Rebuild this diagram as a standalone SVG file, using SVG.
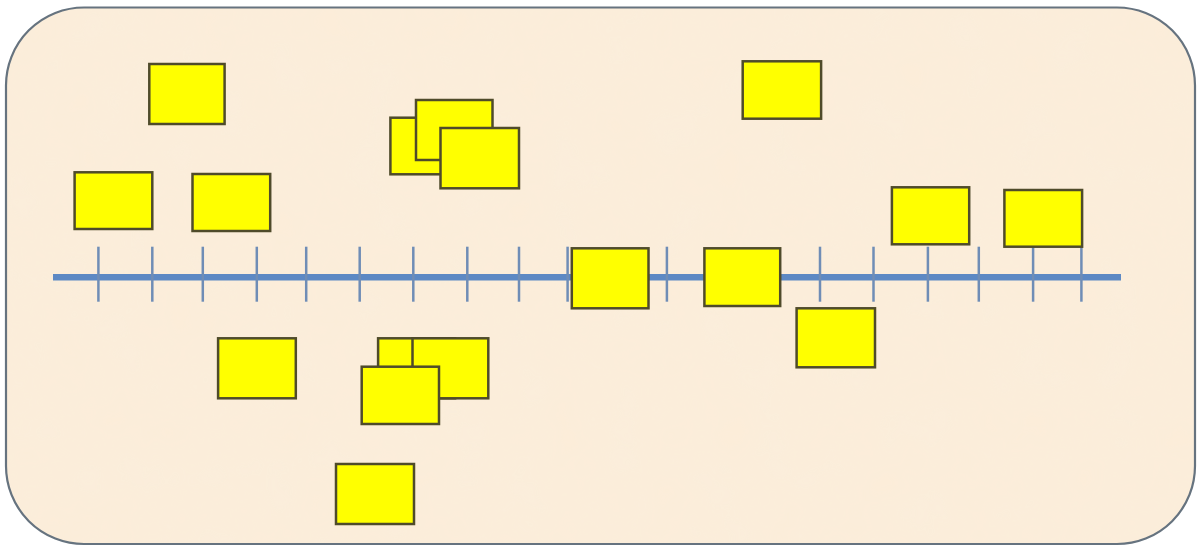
<svg xmlns="http://www.w3.org/2000/svg" width="1198" height="546" viewBox="0 0 1198 546">
<defs>
<filter id="paper" x="0" y="0" width="100%" height="100%">
<feTurbulence type="fractalNoise" baseFrequency="0.02" numOctaves="3" seed="4" result="n"/>
<feColorMatrix in="n" type="matrix" values="0 0 0 0 0.93  0 0 0 0 0.86  0 0 0 0 0.74  0 0 0 0.35 0" result="c"/>
<feComposite in="c" in2="SourceGraphic" operator="in"/>
</filter>
<style>
.card{fill:#FFFF00;stroke:#4F4B2A;stroke-width:2.5}
.tick{stroke:#6F8DB6;stroke-width:2.5}
.axis{stroke:#5D89C4;stroke-width:6.5;stroke-linecap:butt}
</style>
</defs>
<rect width="1198" height="546" fill="#FFFFFF"/>
<g id="board">
<rect x="6" y="7.5" width="1189" height="536.5" rx="78" ry="78" fill="#FCEDD9"/>
<rect x="6" y="7.5" width="1189" height="536.5" rx="78" ry="78" fill="#000" filter="url(#paper)"/>
<rect x="6" y="7.5" width="1189" height="536.5" rx="78" ry="78" fill="none" stroke="#66737F" stroke-width="2.2"/>
</g>
<g id="timeline">
<line class="axis" x1="53" y1="277.3" x2="1121" y2="277.3"/>
<g class="tick">
<line x1="98.4" y1="246.7" x2="98.4" y2="301.7"/>
<line x1="152.3" y1="246.7" x2="152.3" y2="301.7"/>
<line x1="202.8" y1="246.7" x2="202.8" y2="301.7"/>
<line x1="256.8" y1="246.7" x2="256.8" y2="301.7"/>
<line x1="306.2" y1="246.7" x2="306.2" y2="301.7"/>
<line x1="359.7" y1="246.7" x2="359.7" y2="301.7"/>
<line x1="413.3" y1="246.7" x2="413.3" y2="301.7"/>
<line x1="467.3" y1="246.7" x2="467.3" y2="301.7"/>
<line x1="519" y1="246.7" x2="519" y2="301.7"/>
<line x1="567.6" y1="246.7" x2="567.6" y2="301.7"/>
<line x1="666.9" y1="246.7" x2="666.9" y2="301.7"/>
<line x1="820" y1="246.7" x2="820" y2="301.7"/>
<line x1="873.5" y1="246.7" x2="873.5" y2="301.7"/>
<line x1="927.9" y1="246.7" x2="927.9" y2="301.7"/>
<line x1="978.8" y1="246.7" x2="978.8" y2="301.7"/>
<line x1="1033.1" y1="246.7" x2="1033.1" y2="301.7"/>
<line x1="1081.4" y1="246.7" x2="1081.4" y2="301.7"/>
</g>
</g>
<g id="card-1"><rect class="card" x="149.3" y="64" width="75.3" height="60"/></g>
<g id="card-2"><rect class="card" x="74.6" y="172.3" width="77.7" height="56.7"/></g>
<g id="card-3"><rect class="card" x="192.5" y="174" width="77.7" height="57"/></g>
<g id="card-4"><rect class="card" x="390.4" y="117.7" width="77" height="56.6"/></g>
<g id="card-5"><rect class="card" x="416" y="100" width="76.5" height="60"/></g>
<g id="card-6"><rect class="card" x="440.5" y="128" width="78.5" height="60.3"/></g>
<g id="card-7"><rect class="card" x="742.7" y="61.3" width="78.4" height="57.4"/></g>
<g id="card-8"><rect class="card" x="891.9" y="187.3" width="77.3" height="57"/></g>
<g id="card-9"><rect class="card" x="1004.4" y="190" width="77.7" height="56.7"/></g>
<g id="card-10"><rect class="card" x="571.8" y="248.3" width="76.7" height="60"/></g>
<g id="card-11"><rect class="card" x="704.4" y="248.3" width="75.8" height="57.7"/></g>
<g id="card-12"><rect class="card" x="796.6" y="308.3" width="78.4" height="59"/></g>
<g id="card-13"><rect class="card" x="218.1" y="338.3" width="77.7" height="60"/></g>
<g id="card-14"><rect class="card" x="378.1" y="338.3" width="77" height="60"/></g>
<g id="card-15"><rect class="card" x="412.5" y="338.3" width="75.8" height="60"/></g>
<g id="card-16"><rect class="card" x="361.7" y="366.7" width="77.3" height="57.3"/></g>
<g id="card-17"><rect class="card" x="336" y="464" width="78" height="60"/></g>
</svg>
